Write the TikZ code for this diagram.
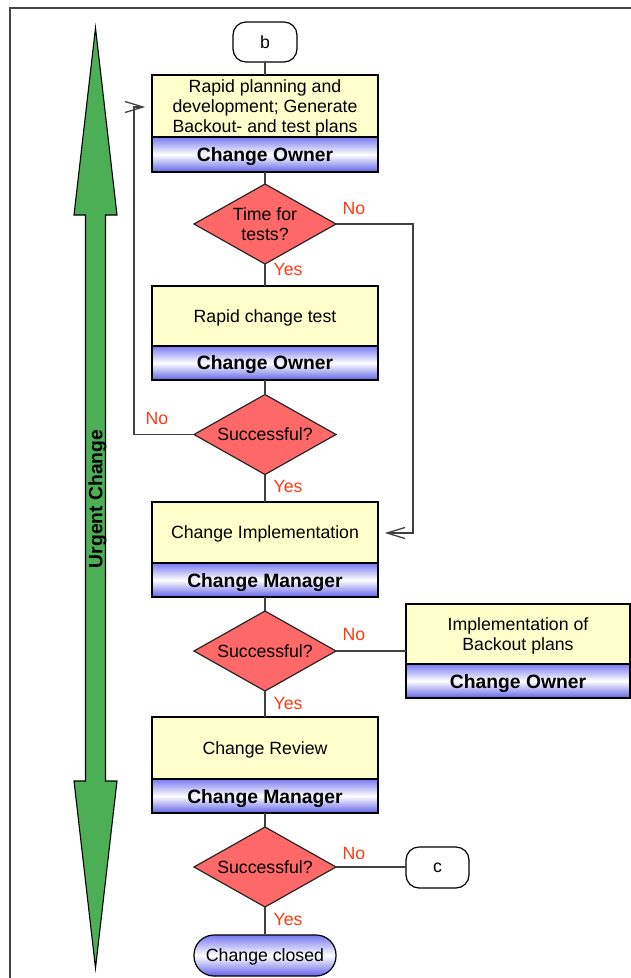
\documentclass[tikz,border=0pt]{standalone}
\usepackage{fontspec}
\setmainfont{Liberation Sans}
\usetikzlibrary{shapes.geometric}
\definecolor{boxyellow}{HTML}{FFFFCC}
\definecolor{bandtop}{HTML}{7878F2}
\definecolor{bandbot}{HTML}{6262E8}
\definecolor{decred}{HTML}{FF6868}
\definecolor{arrgreen}{HTML}{4CAF55}
\definecolor{lblred}{HTML}{FF3A10}
\definecolor{framegray}{HTML}{444444}
\begin{document}
\begin{tikzpicture}[x=1pt,y=-1pt,
  txt/.style={font=\fontsize{17.7}{20}\selectfont},
  btxt/.style={font=\bfseries\fontsize{19.3}{22}\selectfont},
  topbox/.style={draw=black, line width=1.5pt, fill=boxyellow, minimum width=226pt,
    inner sep=0pt, outer sep=0pt, align=center, txt, text depth=0pt},
  rolebox/.style={draw=black, line width=1.5pt, top color=bandtop, bottom color=bandbot,
    middle color=white, minimum width=226pt, inner sep=0pt, outer sep=0pt, btxt, text depth=0pt},
  decision/.style={diamond, draw=black!85, line width=1.2pt, fill=decred,
    minimum width=142pt, minimum height=80pt, shape aspect=1.775, inner sep=0pt,
    outer sep=0pt, align=center, txt, text depth=0pt},
  terminal/.style={draw=black, line width=1.2pt, fill=white, rounded corners=13pt,
    inner sep=0pt, outer sep=0pt, txt, text depth=0pt},
  lbl/.style={text=lblred, txt, inner sep=0pt},
  conn/.style={draw=black!75, line width=1.3pt},
  frame/.style={draw=framegray, line width=2pt}]
\useasboundingbox (0,0) rectangle (631,978);

% frame
\draw[frame] (631,8) -- (10,8) -- (10,978);

% green double arrow
\draw[fill=arrgreen, draw=black, line width=1.1pt, line join=miter]
  (95.5,28) -- (117,215) -- (105.5,215) -- (105.5,781) -- (117,781) -- (95.5,968)
  -- (74,781) -- (85.5,781) -- (85.5,215) -- (74,215) -- cycle;
\node[btxt, rotate=90, inner sep=0pt] (urgent) at (97.5,499) {Urgent Change};

% start connector
\node[terminal, minimum width=64pt, minimum height=40pt] (b) at (265,42) {b};

% box 1
\node[topbox, minimum height=62pt] (p1) at (265,106)
  {Rapid planning and\\development; Generate\\Backout- and test plans};
\node[rolebox, minimum height=35pt] (r1) at (265,154.5) {Change Owner};

% decision 1
\node[decision] (d1) at (265,224) {Time for\\tests?};

% box 2
\node[topbox, minimum height=60pt] (p2) at (265,316) {Rapid change test};
\node[rolebox, minimum height=34pt] (r2) at (265,363) {Change Owner};

% decision 2
\node[decision] (d2) at (265,434.5) {Successful?};

% box 3
\node[topbox, minimum height=61pt] (p3) at (265,532.5) {Change Implementation};
\node[rolebox, minimum height=34pt] (r3) at (265,580) {Change Manager};

% decision 3
\node[decision] (d3) at (265,651) {Successful?};

% box 4 (backout)
\node[topbox, minimum width=224pt, minimum height=60pt] (p4) at (518,634)
  {Implementation of\\Backout plans};
\node[rolebox, minimum width=224pt, minimum height=34pt] (r4) at (518,681) {Change Owner};

% box 5
\node[topbox, minimum height=62pt] (p5) at (265,748) {Change Review};
\node[rolebox, minimum height=34pt] (r5) at (265,796) {Change Manager};

% decision 4
\node[decision] (d4) at (265,867) {Successful?};

% end connector c
\node[terminal, minimum width=63pt, minimum height=41pt] (c) at (437.5,867.5) {c};

% closed
\node[draw=black, line width=1.2pt, top color=bandtop, bottom color=bandbot, middle color=white,
  rounded corners=20pt, minimum width=142pt, minimum height=41pt, inner sep=0pt, txt,
  text depth=0pt] (closed) at (265,955.5) {Change closed};

% vertical connectors
\draw[conn] (b.south) -- (p1.north);
\draw[conn] (r1.south) -- (d1.north);
\draw[conn] (d1.south) -- (p2.north);
\draw[conn] (r2.south) -- (d2.north);
\draw[conn] (d2.south) -- (p3.north);
\draw[conn] (r3.south) -- (d3.north);
\draw[conn] (d3.south) -- (p5.north);
\draw[conn] (r5.south) -- (d4.north);
\draw[conn] (d4.south) -- (closed.north);

% side connectors
\draw[conn] (d3.east) -- (d3.east -| p4.west);
\draw[conn] (d4.east) -- (d4.east -| c.west);

% "No" from decision 1 to implementation
\coordinate (n1c) at (413,533);
\coordinate (n1) at (387,533);
\draw[conn] (d1.east) -| (n1c) -- (n1);
\draw[conn] (n1) ++(18,-5.5) -- (n1) -- ++(18,5.5);

% "No" from decision 2 back to planning
\coordinate (n2c) at (134,107);
\coordinate (n2) at (143,107);
\draw[conn] (d2.west) -| (n2c) -- (n2);
\draw[conn] (n2) ++(-18,-5.5) -- (n2) -- ++(-18,5.5);

% labels
\node[lbl] (l1) at (354,208) {No};
\node[lbl] (l2) at (288,269) {Yes};
\node[lbl] (l3) at (157,418) {No};
\node[lbl] (l4) at (288,486) {Yes};
\node[lbl] (l5) at (354,634) {No};
\node[lbl] (l6) at (288,703) {Yes};
\node[lbl] (l7) at (354,853) {No};
\node[lbl] (l8) at (288,919) {Yes};
\end{tikzpicture}
\end{document}
